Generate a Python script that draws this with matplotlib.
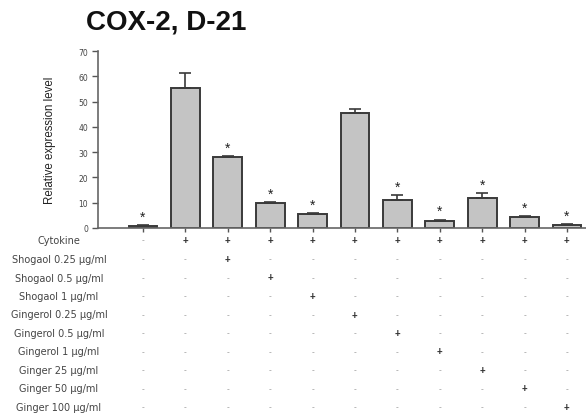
import matplotlib
matplotlib.use("Agg")
import matplotlib.pyplot as plt
from matplotlib.transforms import blended_transform_factory

plt.rcParams['font.family'] = ['Liberation Sans', 'DejaVu Sans']

means = [0.8, 55.2, 28.0, 9.9, 5.4, 45.4, 11.0, 2.9, 11.8, 4.5, 1.3]
errors = [0.3, 6.2, 0.6, 0.4, 0.4, 1.8, 1.9, 0.4, 2.0, 0.3, 0.2]
significant = [True, False, True, True, True, False, True, True, True, True, True]

row_labels = ["Cytokine", "Shogaol 0.25 \u03bcg/ml", "Shogaol 0.5 \u03bcg/ml", "Shogaol 1 \u03bcg/ml",
              "Gingerol 0.25 \u03bcg/ml", "Gingerol 0.5 \u03bcg/ml", "Gingerol 1 \u03bcg/ml",
              "Ginger 25 \u03bcg/ml", "Ginger 50 \u03bcg/ml", "Ginger 100 \u03bcg/ml"]
treatment_matrix = [
    "-++++++++++",
    "--+--------",
    "---+-------",
    "----+------",
    "-----+-----",
    "------+----",
    "-------+---",
    "--------+--",
    "---------+-",
    "----------+",
]
yticks = [0, 10, 20, 30, 40, 50, 60, 70]

W, H = 586, 414
fig = plt.figure(figsize=(W / 100, H / 100), dpi=100)
ax = fig.add_axes([98 / W, (H - 229) / H, (586 - 98) / W, 177 / H])

x = list(range(len(means)))
ax.bar(x, means, width=0.68, color='#c4c4c4', edgecolor='#3a3a3a', linewidth=1.4, zorder=2)
ax.errorbar(x, means, yerr=[[0] * len(errors), errors], fmt='none', ecolor='#3a3a3a',
            elinewidth=1.2, capsize=4, capthick=1.2, zorder=3)
for xi, m, e, s in zip(x, means, errors, significant):
    if s:
        ax.annotate('*', xy=(xi, m + e), xytext=(0, 1), textcoords='offset points',
                    ha='center', va='bottom', fontsize=10, color='#222222')

ax.set_xlim(-1.06, 10.45)
ax.set_ylim(0, 70)
ax.set_yticks(yticks)
ax.set_yticklabels([str(t) for t in yticks], fontsize=5.5, color='#444444', family='DejaVu Sans')
ax.set_xticks(x)
ax.set_xticklabels([])
ax.tick_params(axis='y', direction='out', length=4, width=1, color='#555555', pad=3)
ax.tick_params(axis='x', direction='out', length=3, width=1, color='#555555')
for sp in ['top', 'right']:
    ax.spines[sp].set_visible(False)
for sp in ['left', 'bottom']:
    ax.spines[sp].set_color('#666666')
    ax.spines[sp].set_linewidth(1.2)

ax.set_ylabel("Relative expression level", fontsize=8.3, color='#222222')
ax.yaxis.set_label_coords(-0.086, 0.5)

fig.text(166 / W, 1 - 22 / H, "COX-2, D-21", fontsize=20, fontweight='bold',
         ha='center', va='center', color='#111111')

trans = blended_transform_factory(ax.transData, fig.transFigure)
row_y = [241, 260, 278.5, 297, 315.5, 334, 352.5, 371, 389.5, 408]
for label, signs, ry in zip(row_labels, treatment_matrix, row_y):
    yf = 1 - ry / H
    fig.text(59 / W, yf, label, fontsize=7, ha='center', va='center', color='#444444',
             family='DejaVu Sans')
    for xi, sgn in zip(x, signs):
        if sgn == '+':
            ax.text(xi, yf, sgn, transform=trans, fontsize=7, fontweight='bold', ha='center',
                    va='center', color='#333333', clip_on=False)
        else:
            ax.text(xi, yf, sgn, transform=trans, fontsize=6, ha='center', va='center',
                    color='#888888', clip_on=False)

fig.savefig("out.png", dpi=100)
